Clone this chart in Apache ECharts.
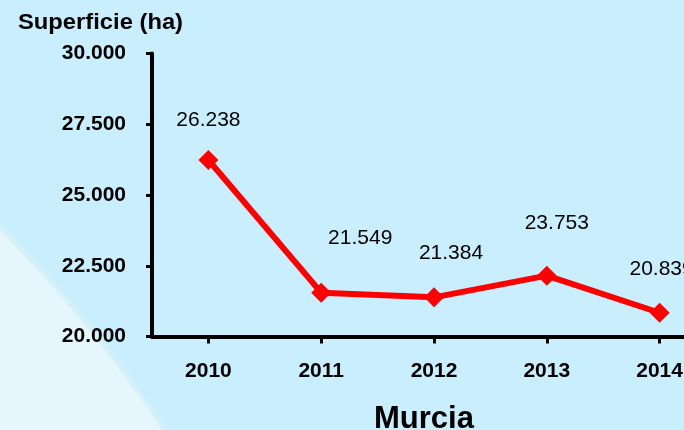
<!DOCTYPE html>
<html>
<head>
<meta charset="utf-8">
<script src="https://cdn.jsdelivr.net/npm/echarts@6/dist/echarts.min.js"></script>
<style>
html,body{margin:0;padding:0;background:#c9eefd;}
#chart{width:684px;height:430px;}
</style>
</head>
<body>
<div id="chart"></div>
<script>
// Data
var years = ['2010', '2011', '2012', '2013', '2014'];
var values = [26238, 21549, 21384, 22150, 20839];          // plotted positions
var valueLabels = ['26.238', '21.549', '21.384', '23.753', '20.839']; // printed labels
var yTicks = [20000, 22500, 25000, 27500, 30000];
var yTitle = 'Superficie (ha)';
var xTitle = 'Murcia';

// label placement (style, not data)
var labelOffsets = [[0, -40], [39, -54], [17, -44], [10, -52], [2, -44]];

var chart = echarts.init(document.getElementById('chart'), null, {renderer: 'canvas'});

function fmt(v) {
  return (v / 1000).toFixed(3);
}

var seriesData = values.map(function (v, i) {
  return {
    value: v,
    label: {
      show: true,
      formatter: valueLabels[i],
      position: 'inside',
      offset: labelOffsets[i],
      color: '#000',
      fontSize: 21,
      fontFamily: 'Liberation Sans, Arial, sans-serif'
    }
  };
});

var option = {
  backgroundColor: '#c9eefd',
  animation: false,
  graphic: [
    {
      type: 'circle',
      z: -10,
      silent: true,
      shape: {cx: -939, cy: 1159, r: 1323},
      style: {fill: '#e5f6fc', stroke: '#d4f1f7', lineWidth: 5}
    },
    {
      type: 'text',
      x: 18,
      y: 23,
      scaleX: 1.08,
      style: {
        text: yTitle,
        fill: '#000',
        verticalAlign: 'middle',
        font: 'bold 22px "Liberation Sans", Arial, sans-serif'
      }
    },
    {
      type: 'text',
      x: 424,
      y: 419,
      style: {
        text: xTitle,
        fill: '#000',
        align: 'center',
        verticalAlign: 'middle',
        font: 'bold 31px "Liberation Sans", Arial, sans-serif'
      }
    }
  ],
  grid: {left: 152, top: 53.5, width: 564, height: 283, containLabel: false, outerBoundsMode: 'none'},
  xAxis: {
    type: 'category',
    data: years,
    boundaryGap: true,
    axisLine: {show: true, lineStyle: {color: '#000', width: 4}},
    axisTick: {show: true, alignWithLabel: true, length: 7, lineStyle: {color: '#000', width: 3}},
    axisLabel: {
      margin: 24,
      color: '#000',
      fontSize: 21,
      fontWeight: 'bold',
      fontFamily: 'Liberation Sans, Arial, sans-serif'
    },
    splitLine: {show: false}
  },
  yAxis: {
    type: 'value',
    min: yTicks[0],
    max: yTicks[yTicks.length - 1],
    interval: 2500,
    axisLine: {show: true, lineStyle: {color: '#000', width: 4}},
    axisTick: {show: true, length: 6, lineStyle: {color: '#000', width: 3}},
    axisLabel: {
      margin: 26,
      color: '#000',
      fontSize: 21,
      fontWeight: 'bold',
      fontFamily: 'Liberation Sans, Arial, sans-serif',
      formatter: fmt
    },
    splitLine: {show: false}
  },
  series: [{
    type: 'line',
    data: seriesData,
    symbol: 'diamond',
    symbolSize: 20,
    lineStyle: {color: '#ff0000', width: 6},
    itemStyle: {color: '#ff0000'},
    z: 5
  }]
};

chart.setOption(option);
</script>
</body>
</html>
